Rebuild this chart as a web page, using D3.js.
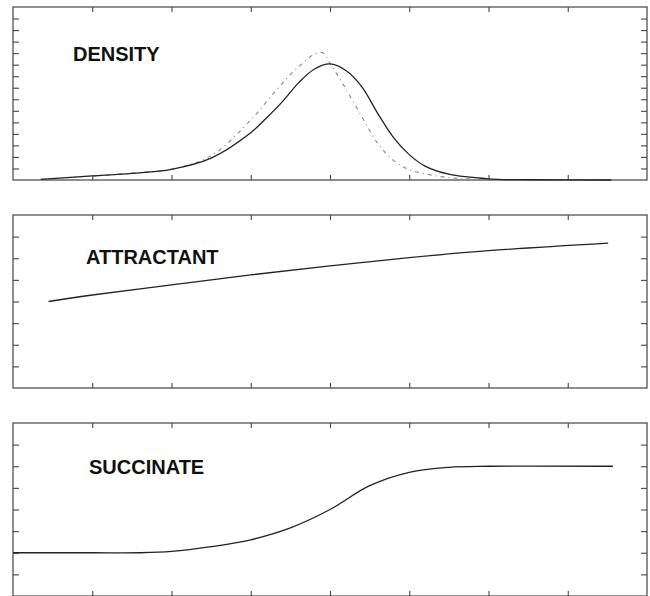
<!DOCTYPE html>
<html>
  <head>
    <meta charset="utf-8">
    <title>Density / Attractant / Succinate</title>
    <style>
      body { margin: 0; background: #fff; }
      .lbl { font-family: 'Liberation Sans', Arial, sans-serif; font-weight: bold; font-size: 20px; fill: #111; }
    </style>
  </head>
  <body>
    <script src="https://d3js.org/d3.v7.min.js"></script>
    <script>
      // x in tick units (7 interior ticks, 8 intervals)
      var xTicks = [1, 2, 3, 4, 5, 6, 7];

      // DENSITY panel, y scale 0..15
      var densityX     = [0.35, 1, 1.5, 2, 2.5, 3, 3.2, 3.4, 3.6, 3.8, 4.0, 4.2, 4.4, 4.6, 4.8, 5.0, 5.2, 5.5, 6.0, 6.5, 7.55];
      var densitySolid = [0.05, 0.35, 0.58, 0.93, 1.9, 4.1, 5.4, 6.8, 8.4, 9.6, 10.06, 9.5, 8.1, 5.8, 3.7, 2.2, 1.2, 0.5, 0.1, 0.02, 0];
      var dottedX      = [0.35, 1, 1.5, 2, 2.5, 3, 3.2, 3.4, 3.6, 3.8, 3.9, 4.0, 4.2, 4.4, 4.6, 4.8, 5.0, 5.3, 5.6, 6.0, 7.55];
      var densityDot   = [0.05, 0.35, 0.6, 0.95, 2.1, 5.2, 6.8, 8.4, 9.8, 10.9, 11.05, 10.1, 7.9, 5.5, 3.2, 1.7, 0.9, 0.4, 0.15, 0.03, 0];
      var densityYTicks = d3.range(1, 15);

      // ATTRACTANT panel, y scale 0..8
      var attractX = [0.45, 1, 2, 3, 4, 5, 6, 7.51];
      var attractY = [4.0, 4.3, 4.77, 5.23, 5.65, 6.03, 6.35, 6.7];

      // SUCCINATE panel, y scale 0..8
      var succX = [0, 1, 1.6, 2, 2.5, 3, 3.5, 4, 4.5, 5, 5.5, 6, 7.57];
      var succY = [2.0, 2.0, 2.0, 2.06, 2.28, 2.6, 3.15, 4.0, 5.1, 5.72, 5.95, 6.0, 6.0];
      var smallYTicks = d3.range(1, 8);

      var width = 650, height = 596;
      var left = 13, right = 647;

      var svg = d3.select("body").append("svg")
        .attr("width", width)
        .attr("height", height);

      var x = d3.scaleLinear().domain([0, 8]).range([left, right]);

      function zip(xs, ys) {
        return xs.map(function(v, i) { return [v, ys[i]]; });
      }

      function panel(top, bottom, ymax, yTicks, label, lx, ly) {
        var y = d3.scaleLinear().domain([0, ymax]).range([bottom, top]);
        var g = svg.append("g");

        // frame
        g.append("rect")
          .attr("x", left).attr("y", top)
          .attr("width", right - left).attr("height", bottom - top)
          .attr("fill", "none").attr("stroke", "#444").attr("stroke-width", 1.2);

        var axes = [
          d3.axisTop(x).tickValues(xTicks).tickSize(-5),
          d3.axisBottom(x).tickValues(xTicks).tickSize(-5),
          d3.axisLeft(y).tickValues(yTicks).tickSize(-6),
          d3.axisRight(y).tickValues(yTicks).tickSize(-6)
        ];
        var trans = [
          "translate(0," + top + ")",
          "translate(0," + bottom + ")",
          "translate(" + left + ",0)",
          "translate(" + right + ",0)"
        ];
        axes.forEach(function(a, i) {
          var ag = g.append("g")
            .attr("transform", trans[i])
            .call(a.tickFormat(""));
          ag.select(".domain").remove();
          ag.selectAll("line").attr("stroke", "#444").attr("stroke-width", 1.1);
        });

        g.append("text")
          .attr("class", "lbl")
          .attr("x", lx).attr("y", ly)
          .text(label);

        var line = d3.line()
          .x(function(d) { return x(d[0]); })
          .y(function(d) { return y(d[1]); })
          .curve(d3.curveCatmullRom.alpha(0.5));

        return { g: g, line: line };
      }

      var p1 = panel(7, 180, 15, densityYTicks, "DENSITY", 73, 61);
      p1.g.append("path")
        .datum(zip(dottedX, densityDot))
        .attr("fill", "none")
        .attr("stroke", "#888")
        .attr("stroke-width", 1.1)
        .attr("stroke-dasharray", "4,4,1,4")
        .attr("d", p1.line);
      p1.g.append("path")
        .datum(zip(densityX, densitySolid))
        .attr("fill", "none")
        .attr("stroke", "#222")
        .attr("stroke-width", 1.3)
        .attr("d", p1.line);

      var p2 = panel(215, 388, 8, smallYTicks, "ATTRACTANT", 86, 264);
      p2.g.append("path")
        .datum(zip(attractX, attractY))
        .attr("fill", "none")
        .attr("stroke", "#222")
        .attr("stroke-width", 1.3)
        .attr("d", p2.line);

      var p3 = panel(423, 596, 8, smallYTicks, "SUCCINATE", 89, 474);
      p3.g.append("path")
        .datum(zip(succX, succY))
        .attr("fill", "none")
        .attr("stroke", "#222")
        .attr("stroke-width", 1.3)
        .attr("d", p3.line);
    </script>
  </body>
</html>
